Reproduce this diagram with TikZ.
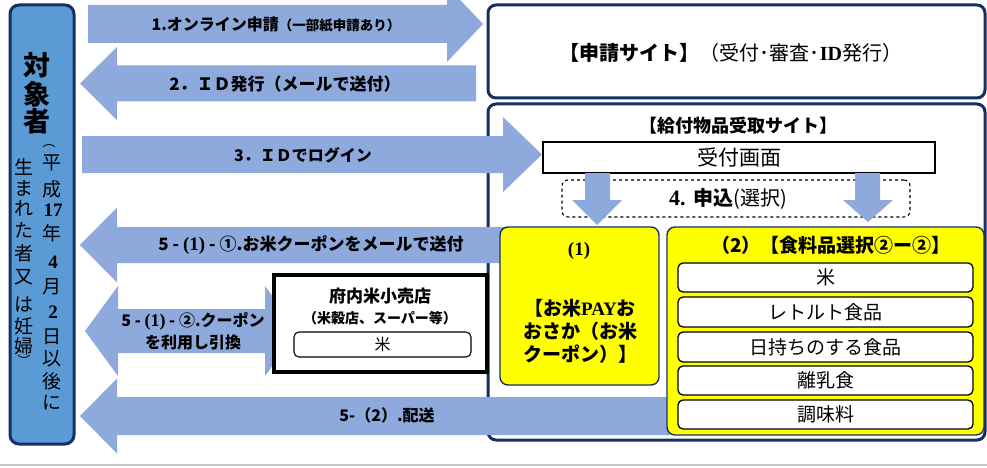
\documentclass[tikz,border=0pt]{standalone}
\usepackage{fontspec}
\setmainfont{Noto Sans CJK JP}
\newfontfamily\ser{Liberation Serif}
\definecolor{abl}{RGB}{142,169,219}
\definecolor{navy}{RGB}{22,48,100}
\definecolor{lfill}{RGB}{91,155,213}
\definecolor{yel}{RGB}{255,255,0}
\newcommand\fsz[2]{\fontsize{#1}{#2}\selectfont}
% right block arrow: x0, head base, tip, yc, body half, head half
\newcommand\blkR[6]{\fill[abl] (#1,{#4-#5}) -- (#2,{#4-#5}) -- (#2,{#4-#6}) -- (#3,#4) -- (#2,{#4+#6}) -- (#2,{#4+#5}) -- (#1,{#4+#5}) -- cycle;}
% left block arrow: tip, head base, x end, yc, body half, head half
\newcommand\blkL[6]{\fill[abl] (#1,#4) -- (#2,{#4-#6}) -- (#2,{#4-#5}) -- (#3,{#4-#5}) -- (#3,{#4+#5}) -- (#2,{#4+#5}) -- (#2,{#4+#6}) -- cycle;}
\begin{document}
\begin{tikzpicture}[x=1pt,y=-1pt,
  navybox/.style={draw=navy,line width=3pt,rounded corners=8pt,fill=white,inner sep=0pt},
  ylbox/.style={draw=navy,line width=1.4pt,rounded corners=8pt,fill=yel,inner sep=0pt},
  itembox/.style={draw=black,line width=1.3pt,rounded corners=5pt,fill=white,inner sep=0pt,font=\fsz{19}{22}},
  atxt/.style={font=\fsz{16}{22}\bfseries,inner sep=0pt,align=center},
  vch/.style={font=\fsz{19}{22},inner sep=0pt},
  vnum/.style={font=\fsz{19}{22}\ser\bfseries,inner sep=0pt}]
\useasboundingbox (0,0) rectangle (987,468);
\fill[white] (0,0) rectangle (987,468);
\draw[black!22,line width=1.5pt] (0,465) -- (987,465);

% left target box
\node[draw=navy,line width=3pt,rounded corners=9pt,fill=lfill,minimum width=64pt,minimum height=439pt] (tgt) at (42,224.5) {};
\node[font=\fsz{27}{30}\bfseries,inner sep=0pt] (t1) at (37,65) {対};
\node[font=\fsz{27}{30}\bfseries,inner sep=0pt] (t2) at (37,94) {象};
\node[font=\fsz{27}{30}\bfseries,inner sep=0pt] (t3) at (37,121) {者};
% right column
\node[font=\fsz{13}{15},inner sep=0pt,rotate=-90] (r0) at (49,142) {（};
\node[vch] (r1) at (52,163) {平};
\node[vch] (r2) at (52,189) {成};
\node[vnum] (r3) at (53,210) {17};
\node[vch] (r4) at (52,233) {年};
\node[vnum] (r5) at (53,262) {4};
\node[vch] (r6) at (52,287) {月};
\node[vnum] (r7) at (53,312) {2};
\node[vch] (r8) at (52,337) {日};
\node[vch] (r9) at (52,359) {以};
\node[vch] (r10) at (52,381) {後};
\node[vch] (r11) at (52,403) {に};
% left column
\node[vch] (l1) at (24,167) {生};
\node[vch] (l2) at (24,188) {ま};
\node[vch] (l3) at (24,208) {れ};
\node[vch] (l4) at (24,230) {た};
\node[vch] (l5) at (24,253) {者};
\node[vch] (l6) at (24,277) {又};
\node[vch] (l7) at (24,305) {は};
\node[vch] (l8) at (24,326) {妊};
\node[vch] (l9) at (24,346) {婦};
\node[font=\fsz{13}{15},inner sep=0pt,rotate=-90] (l10) at (24,361) {）};

% site boxes
\node[navybox,minimum width=497pt,minimum height=93pt] (app) at (736.5,51.5) {};
\node[inner sep=0pt,font=\fsz{20}{22}] (apptxt) at (731,53) {{\bfseries【申請サイト】}（受付･審査･{\ser\bfseries ID}発行）};
\node[navybox,minimum width=497pt,minimum height=336pt] (recv) at (736.5,272) {};
\node[inner sep=0pt,font=\fsz{18}{22}\bfseries] (recvtxt) at (738,126) {【給付物品受取サイト】};

% block arrows
\blkR{88}{447}{483}{24}{19}{38}
\node[atxt] (a1) at (276,25) {1.オンライン申請{\fsz{13.5}{15}（一部紙申請あり）}};
\blkL{80}{117}{476}{83.5}{18}{36.5}
\node[atxt,font=\fsz{17}{22}\bfseries] (a2) at (285,84) {2．ＩＤ発行（メールで送付）};
\blkR{82}{503}{542}{154.5}{18.5}{37.5}
\node[atxt] (a3) at (303,155) {3．ＩＤでログイン};
\blkL{80}{117}{505}{245}{18}{37.5}
\node[atxt,font=\fsz{17}{22}\bfseries] (a4) at (311,245) {5 - {\ser\fsz{19}{22}(1)} - ①.お米クーポンをメールで送付};
\fill[abl] (85,331) -- (118,286) -- (118,309) -- (265,309) -- (265,286) -- (298,331) -- (265,376) -- (265,353) -- (118,353) -- (118,376) -- cycle;
\node[atxt] (a5) at (193,331) {5 - {\ser\fsz{18}{22}(1)} - ②.クーポン\\を利用し引換};
\blkL{80}{117}{670}{416}{19}{37.5}
\node[atxt] (a6) at (387,415) {5-（2）.配送};

% receiving site inner
\node[draw=black,line width=1.2pt,fill=white,minimum width=392pt,minimum height=31pt,inner sep=0pt,font=\fsz{21}{24}] (uke) at (739,157.5) {受付画面};
\node[draw=black,line width=1.1pt,dashed,rounded corners=6pt,minimum width=348pt,minimum height=37pt,inner sep=0pt] (apply) at (736,198.5) {};
\node[inner sep=0pt,font=\fsz{20}{22}] (applytxt) at (728,199) {{\ser\bfseries\fsz{22}{22}4.}\ \,{\bfseries 申込}(選択)};
\fill[abl] (585,173) -- (610,173) -- (610,200) -- (622,200) -- (597,225) -- (572,200) -- (585,200) -- cycle;
\fill[abl] (855,173) -- (880,173) -- (880,200) -- (893,200) -- (868,222) -- (843,200) -- (855,200) -- cycle;

% yellow boxes
\node[ylbox,minimum width=159pt,minimum height=158pt] (y1) at (579.5,306) {};
\node[inner sep=0pt,font=\fsz{19}{22}\ser\bfseries] (y1a) at (579,251) {(1)};
\node[inner sep=0pt,font=\fsz{19}{23}\bfseries,align=center] (y1b) at (580,331) {【お米{\ser PAY}お\\おさか（お米\\クーポン）】};
\node[ylbox,minimum width=317pt,minimum height=208pt] (y2) at (825.5,331) {};
\node[inner sep=0pt,font=\fsz{19}{22}\bfseries] (y2t) at (831,245) {（2）【食料品選択②ー②】};
\node[itembox,minimum width=295pt,minimum height=29pt] (i1) at (825.5,277.5) {米};
\node[itembox,minimum width=295pt,minimum height=30pt] (i2) at (825.5,312) {レトルト食品};
\node[itembox,minimum width=295pt,minimum height=30pt] (i3) at (825.5,347) {日持ちのする食品};
\node[itembox,minimum width=295pt,minimum height=29pt] (i4) at (825.5,380.5) {離乳食};
\node[itembox,minimum width=295pt,minimum height=29pt] (i5) at (825.5,414.5) {調味料};

% shop
\node[draw=black,line width=3.2pt,fill=white,minimum width=213pt,minimum height=97pt,inner sep=0pt] (shop) at (380.5,323.5) {};
\node[inner sep=0pt,font=\fsz{17}{20}\bfseries] (shopa) at (380,296) {府内米小売店};
\node[inner sep=0pt,font=\fsz{14}{17}\bfseries] (shopb) at (380,318) {（米穀店、スーパー等）};
\node[draw=black,line width=1.1pt,rounded corners=5pt,fill=white,minimum width=177pt,minimum height=25pt,inner sep=0pt,font=\fsz{16}{18}] (kome) at (382.5,344.5) {米};
\end{tikzpicture}
\end{document}
